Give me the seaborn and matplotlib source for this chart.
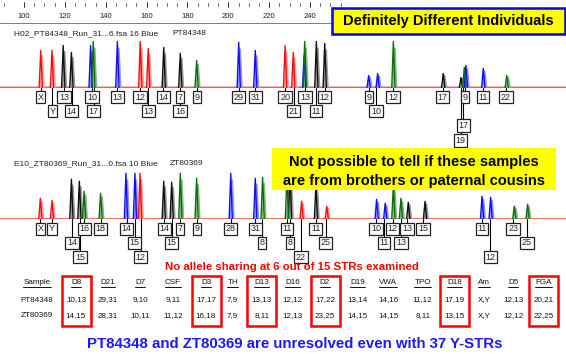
import numpy as np
import pandas as pd
import matplotlib
matplotlib.use('Agg')
import matplotlib.pyplot as plt
import seaborn as sns
from matplotlib.patches import Rectangle

sns.set_theme(style='white')
plt.rcParams['font.family'] = ['Liberation Sans', 'DejaVu Sans']

W, H = 566, 354
BP_MIN, BP_MAX = 88.25, 365.3

# size ruler (bp) - labels past 240 sit under the yellow call-out
ruler_ticks = [100, 120, 140, 160, 180, 200, 220, 240]

# sample 1 - PT84348 peaks (bp, height, dye)
p1_bp = [108.2, 113.7, 119.2, 123.2, 132.6, 133.9, 145.7, 156.9, 160.8, 168.4, 176.5, 184.5,
         205.1, 213.2, 227.8, 231.8, 237.1, 237.4, 243.1, 247.2, 268.7, 273.1, 280.8,
         305.2, 313.9, 315.5, 316.3, 324.8, 336.3]
p1_h = [37, 37, 42, 35, 42, 46, 46, 46, 39, 40, 34, 27,
        45, 37, 42, 35, 32, 46, 46, 44, 12, 14, 46,
        14, 10, 20, 22, 19, 12]
p1_dye = ['red', 'red', 'black', 'black', 'blue', 'green', 'blue', 'red', 'red', 'black', 'black', 'green',
          'blue', 'blue', 'red', 'red', 'blue', 'green', 'black', 'black', 'blue', 'blue', 'green',
          'black', 'black', 'green', 'blue', 'blue', 'green']
p1_lab = ['X', 'Y', '13', '14', '10', '17', '13', '12', '13', '14', '7', '16', '9', '29', '31',
          '20', '21', '13', '11', '12', '9', '10', '12', '17', '9', '17', '19', '11', '22']
p1_lab_bp = [108.2, 113.9, 119.6, 123.3, 133.3, 134.1, 145.7, 156.8, 160.8, 168.2, 176.4, 176.4, 184.5,
             205.1, 213.2, 227.8, 232.0, 237.5, 242.9, 247.2, 268.7, 272.3, 280.6, 304.9, 315.9,
             315.0, 313.8, 324.7, 335.9]
p1_lab_row = [0, 1, 0, 1, 0, 1, 0, 0, 1, 0, 0, 1, 0, 0, 0, 0, 1, 0, 1, 0, 0, 1, 0, 0, 0, 2, 3, 0, 0]

# sample 2 - ZT80369 peaks
p2_bp = [108.0, 113.7, 123.2, 127.1, 129.4, 137.5, 149.9, 154.3, 156.8, 168.4, 172.3, 176.5, 184.5,
         201.2, 213.2, 216.8, 228.7, 230.2, 235.9, 242.9, 248.2, 272.6, 276.8, 280.8, 284.5,
         288.1, 296.3, 324.2, 328.4, 340.0, 346.5]
p2_h = [21, 19, 40, 38, 28, 26, 46, 46, 46, 38, 37, 46, 41,
        46, 41, 42, 44, 46, 18, 34, 13, 20, 16, 34, 21,
        17, 18, 23, 22, 13, 15]
p2_dye = ['red', 'red', 'black', 'black', 'green', 'green', 'blue', 'blue', 'red', 'black', 'black', 'green', 'green',
          'blue', 'blue', 'green', 'green', 'black', 'red', 'black', 'red', 'blue', 'blue', 'green', 'green',
          'black', 'black', 'blue', 'blue', 'green', 'green']
p2_lab = ['X', 'Y', '14', '15', '16', '18', '14', '15', '12', '14', '15', '7', '9', '28', '31', '8',
          '11', '8', '22', '11', '25', '10', '11', '12', '13', '13', '15', '11', '12', '23', '25']
p2_lab_bp = [108.0, 113.7, 123.5, 127.4, 129.5, 137.5, 150.3, 154.2, 157.1, 168.7, 172.3, 176.4, 184.5,
             201.2, 213.2, 216.5, 228.7, 230.2, 235.6, 242.8, 247.7, 272.3, 276.2, 280.5, 284.5,
             287.5, 295.3, 324.2, 328.2, 339.4, 346.2]
p2_lab_row = [0, 0, 1, 2, 0, 0, 0, 1, 2, 0, 1, 0, 0, 0, 0, 1, 0, 1, 2, 0, 1, 0, 1, 0, 1, 0, 0, 0, 2, 0, 1]

# STR table
loci = ['D8', 'D21', 'D7', 'CSF', 'D3', 'TH', 'D13', 'D16', 'D2', 'D19', 'VWA', 'TPO', 'D18', 'Am', 'D5', 'FGA']
pt84348 = ['10,13', '29,31', '9,10', '9,11', '17,17', '7,9', '13,13', '12,12', '17,22', '13,14', '14,16',
           '11,12', '17,19', 'X,Y', '12,13', '20,21']
zt80369 = ['14,15', '28,31', '10,11', '11,12', '16,18', '7,9', '8,11', '12,13', '23,25', '14,15', '14,15',
           '8,11', '13,15', 'X,Y', '12,12', '22,25']
no_sharing = ['D8', 'D3', 'D13', 'D2', 'D18', 'FGA']

# layout (pixels)
col_x = [76, 108, 140, 173, 206, 232.7, 261.7, 292.3, 325, 357.7, 388.3, 422.7, 454.3, 484, 513.3, 543.3]
row_y = [-9.5, -23.5, -38, -53]
dark = {'red': '#f01010', 'black': '#101010', 'blue': '#1010f0', 'green': '#0a6e0a'}
light = {'red': '#ff9a9a', 'black': '#9a9a9a', 'blue': '#9090ff', 'green': '#80b880'}


def trace_df(bp, h, dye, shift=0.0, scale=1.0):
    rows = []
    for i, (b, hh, d) in enumerate(zip(bp, h, dye)):
        for dx, f in [(-0.8, 0), (0, 1), (0.8, 0)]:
            rows.append({'peak': i, 'bp': b + dx + shift, 'rfu': hh * f * scale, 'dye': d})
    return pd.DataFrame(rows)


def draw_panel(base_px, bp, h, dye, labs, lab_bp, lab_row, thick):
    ax = fig.add_axes([0, (H - base_px) / H, 1, 50 / H])
    ax.set_xlim(BP_MIN, BP_MAX)
    ax.set_ylim(0, 50)
    ax.axis('off')
    if thick:
        ax.axhline(0, color='#ffb4b4', lw=3, zorder=1)
    ax.axhline(0, color='#f04040', lw=1.1, zorder=2)
    sh = trace_df(bp, h, dye, shift=0.7, scale=0.85)
    sns.lineplot(data=sh, x='bp', y='rfu', hue='dye', units='peak', estimator=None,
                 palette=light, lw=1.3, legend=False, ax=ax, zorder=3)
    tr = trace_df(bp, h, dye)
    sns.lineplot(data=tr, x='bp', y='rfu', hue='dye', units='peak', estimator=None,
                 palette=dark, lw=1.0, legend=False, ax=ax, zorder=4)
    for lab, b, r in zip(labs, lab_bp, lab_row):
        y = row_y[r]
        ax.plot([b, b], [0, y], color='black', lw=0.8, clip_on=False, zorder=5)
        ax.text(b, y, lab, ha='center', va='center', fontsize=6.5, clip_on=False, zorder=6,
                bbox=dict(boxstyle='square,pad=0.18', fc='white', ec='#222222', lw=0.9))
    ax.set_xlabel('')
    ax.set_ylabel('')
    return ax


fig = plt.figure(figsize=(W / 100, H / 100), dpi=100)

# ruler
axr = fig.add_axes([0, (H - 24) / H, 1, 24 / H])
axr.set_xlim(BP_MIN, BP_MAX)
axr.set_ylim(0, 24)
axr.axis('off')
axr.axhline(0.5, color='#808080', lw=2.2)
axr.plot([90, 90], [18.5, 21], color='#555555', lw=0.6)
for t in ruler_ticks:
    axr.plot([t, t], [17.5, 22], color='#333333', lw=0.7)
    for m in (5, 10, 15):
        axr.plot([t + m, t + m], [18.5, 21], color='#555555', lw=0.6)
    axr.text(t, 8, str(t), ha='center', va='center', fontsize=5.5, color='#222222')

draw_panel(87.5, p1_bp, p1_h, p1_dye, p1_lab, p1_lab_bp, p1_lab_row, True)
draw_panel(219.3, p2_bp, p2_h, p2_dye, p2_lab, p2_lab_bp, p2_lab_row, False)

# overlay for text, table and call-outs
ax = fig.add_axes([0, 0, 1, 1])
ax.set_xlim(0, W)
ax.set_ylim(H, 0)
ax.axis('off')

ax.text(14, 33.5, 'H02_PT84348_Run_31...6.fsa 16 Blue', fontsize=6, va='center', color='#222222')
ax.text(172, 33.5, 'PT84348', fontsize=6, va='center', color='#222222')
ax.text(14, 163.5, 'E10_ZT80369_Run_31...0.fsa 10 Blue', fontsize=6, va='center', color='#222222')
ax.text(170, 163.5, 'ZT80369', fontsize=6, va='center', color='#222222')

ax.add_patch(Rectangle((332, 8), 233, 26, fc='#ffff00', ec='#0000ff', lw=1.8, zorder=10))
ax.text(448.5, 21.5, 'Definitely Different Individuals', ha='center', va='center',
        fontsize=10.5, fontweight='bold', color='black', zorder=11)

ax.add_patch(Rectangle((272, 148), 284, 42, fc='#ffff00', ec='none', zorder=10))
ax.text(414, 162, 'Not possible to tell if these samples', ha='center', va='center',
        fontsize=10.5, fontweight='bold', color='black', zorder=11)
ax.text(414, 181, 'are from brothers or paternal cousins', ha='center', va='center',
        fontsize=10.5, fontweight='bold', color='black', zorder=11)

ax.text(292, 267.5, 'No allele sharing at 6 out of 15 STRs examined', ha='center', va='center',
        fontsize=8.2, fontweight='bold', color='#ff0000')

headers = [ax.text(37, 283, 'Sample', ha='center', va='center', fontsize=5.8, color='#111111')]
ax.text(37, 300, 'PT84348', ha='center', va='center', fontsize=5.8, color='#111111')
ax.text(37, 315.7, 'ZT80369', ha='center', va='center', fontsize=5.8, color='#111111')
for x, loc, a, b in zip(col_x, loci, pt84348, zt80369):
    headers.append(ax.text(x, 283, loc, ha='center', va='center', fontsize=5.8, color='#111111'))
    ax.text(x, 300, a, ha='center', va='center', fontsize=5.8, color='#111111')
    ax.text(x, 315.7, b, ha='center', va='center', fontsize=5.8, color='#111111')
    if loc in no_sharing:
        ax.add_patch(Rectangle((x - 14.5, 276), 29, 50, fill=False, ec='#ff0000', lw=1.8))

fig.canvas.draw()
inv = ax.transData.inverted()
for t in headers:
    bb = t.get_window_extent()
    (x0, y0), (x1, _) = inv.transform([(bb.x0, bb.y0), (bb.x1, bb.y1)])
    ax.plot([x0, x1], [y0 + 0.3, y0 + 0.3], color='#111111', lw=0.7)

ax.text(295, 344.5, 'PT84348 and ZT80369 are unresolved even with 37 Y-STRs', ha='center', va='center',
        fontsize=10.8, fontweight='bold', color='#1a1aff')

fig.savefig('out.png', dpi=100)
